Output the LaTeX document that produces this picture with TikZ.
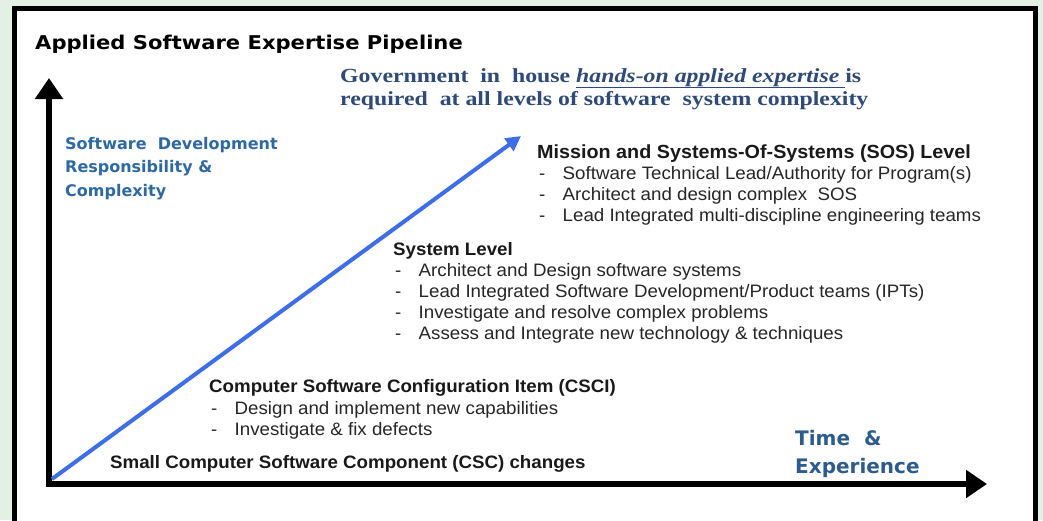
\documentclass[tikz,border=0pt]{standalone}
\usepackage{fontspec}
\setmainfont{Liberation Sans}
\newfontfamily\headfont{DejaVu Sans}
\newfontfamily\titlefont[FakeStretch=1.11]{DejaVu Sans}
\newfontfamily\govfont[FakeStretch=1.19]{Liberation Serif}
\newfontfamily\levelfont[FakeStretch=1.04]{Liberation Sans}
\usepackage{xcolor}
\usetikzlibrary{positioning, arrows.meta}
\definecolor{bggreen}{RGB}{227,240,230}
\definecolor{govblue}{RGB}{46,74,122}
\definecolor{labblue}{RGB}{45,105,165}
\definecolor{timeblue}{RGB}{44,92,143}
\definecolor{riseblue}{RGB}{60,110,235}
\newcommand{\dashitem}[1]{\makebox[23.5pt][l]{-}#1}
\tikzset{
  txt/.style={inner sep=0pt, anchor=base west},
  gov/.style={txt, font=\govfont\fontsize{20}{22}\selectfont\bfseries, text=govblue},
  lab/.style={txt, font=\headfont\fontsize{16}{20}\selectfont\bfseries, text=labblue},
  head/.style={txt, font=\levelfont\fontsize{18}{20}\selectfont\bfseries, text=black!90},
  item/.style={txt, font=\levelfont\fontsize{18}{20}\selectfont, text=black!85},
  axis/.style={line width=6.5pt, line cap=rect, -{Triangle[width=27pt,length=21pt]}},
  rise/.style={line width=4pt, draw=riseblue, -{Triangle[width=15pt,length=15pt]}}
}

\begin{document}
\begin{tikzpicture}[x=1pt, y=-1pt]
              \useasboundingbox (0,0) rectangle (1043,520);
              \clip (0,0) rectangle (1043,520);
              \fill[bggreen] (0,0) rectangle (1043,520);
              \draw[line width=5pt, fill=white] (14,8) rectangle (1035,560);

              \coordinate (o) at (49,484);
              \coordinate (y) at (49,78);
              \coordinate (x) at (987,484);
              \coordinate (s) at (52,479);
              \coordinate (e) at (521,136);
              \draw[axis] (o) -- (y);
              \draw[axis] (o) -- (x);
              \draw[rise] (s) -- (e);

              \node[txt, font=\titlefont\fontsize{19}{22}\selectfont\bfseries] at (35,49) (title) {Applied Software Expertise Pipeline};

              \node[gov] at (340,82) (gov1)
                {Government~ in~ house \underline{\textit{hands-on applied expertise}\ }is};
              \node[gov, below=23pt of gov1.base west, anchor=base west] (gov2)
                {required~ at all levels of software~ system complexity};

              \node[lab] at (65,149) (ylab1) {Software~ Development};
              \node[lab, below=23.5pt of ylab1.base west, anchor=base west] (ylab2) {Responsibility \&};
              \node[lab, below=23.5pt of ylab2.base west, anchor=base west] (ylab3) {Complexity};

              \node[lab, font=\headfont\fontsize{20}{24}\selectfont\bfseries, text=timeblue] at (795,445) (xlab1) {Time~ \&};
              \node[lab, font=\headfont\fontsize{20}{24}\selectfont\bfseries, text=timeblue, below=28pt of xlab1.base west, anchor=base west] (xlab2) {Experience};

              \node[head, font=\levelfont\fontsize{19}{20}\selectfont\bfseries] at (537,158) (sos) {Mission and Systems-Of-Systems (SOS) Level};
              \node[item, below=21pt of sos.base west, anchor=base west, xshift=2pt] (sos1) {\dashitem{Software Technical Lead/Authority for Program(s)}};
              \node[item, below=21pt of sos1.base west, anchor=base west] (sos2) {\dashitem{Architect and design complex~ SOS}};
              \node[item, below=21pt of sos2.base west, anchor=base west] (sos3) {\dashitem{Lead Integrated multi-discipline engineering teams}};

              \node[head] at (393,255) (sys) {System Level};
              \node[item, below=21pt of sys.base west, anchor=base west, xshift=2pt] (sys1) {\dashitem{Architect and Design software systems}};
              \node[item, below=21pt of sys1.base west, anchor=base west] (sys2) {\dashitem{Lead Integrated Software Development/Product teams (IPTs)}};
              \node[item, below=21pt of sys2.base west, anchor=base west] (sys3) {\dashitem{Investigate and resolve complex problems}};
              \node[item, below=21pt of sys3.base west, anchor=base west] (sys4) {\dashitem{Assess and Integrate new technology \& techniques}};

              \node[head] at (209,392) (csci) {Computer Software Configuration Item (CSCI)};
              \node[item, below=22pt of csci.base west, anchor=base west, xshift=2pt] (csci1) {\dashitem{Design and implement new capabilities}};
              \node[item, below=21pt of csci1.base west, anchor=base west] (csci2) {\dashitem{Investigate \& fix defects}};

              \node[head] at (110,468) (csc) {Small Computer Software Component (CSC) changes};
            \end{tikzpicture}
\end{document}
